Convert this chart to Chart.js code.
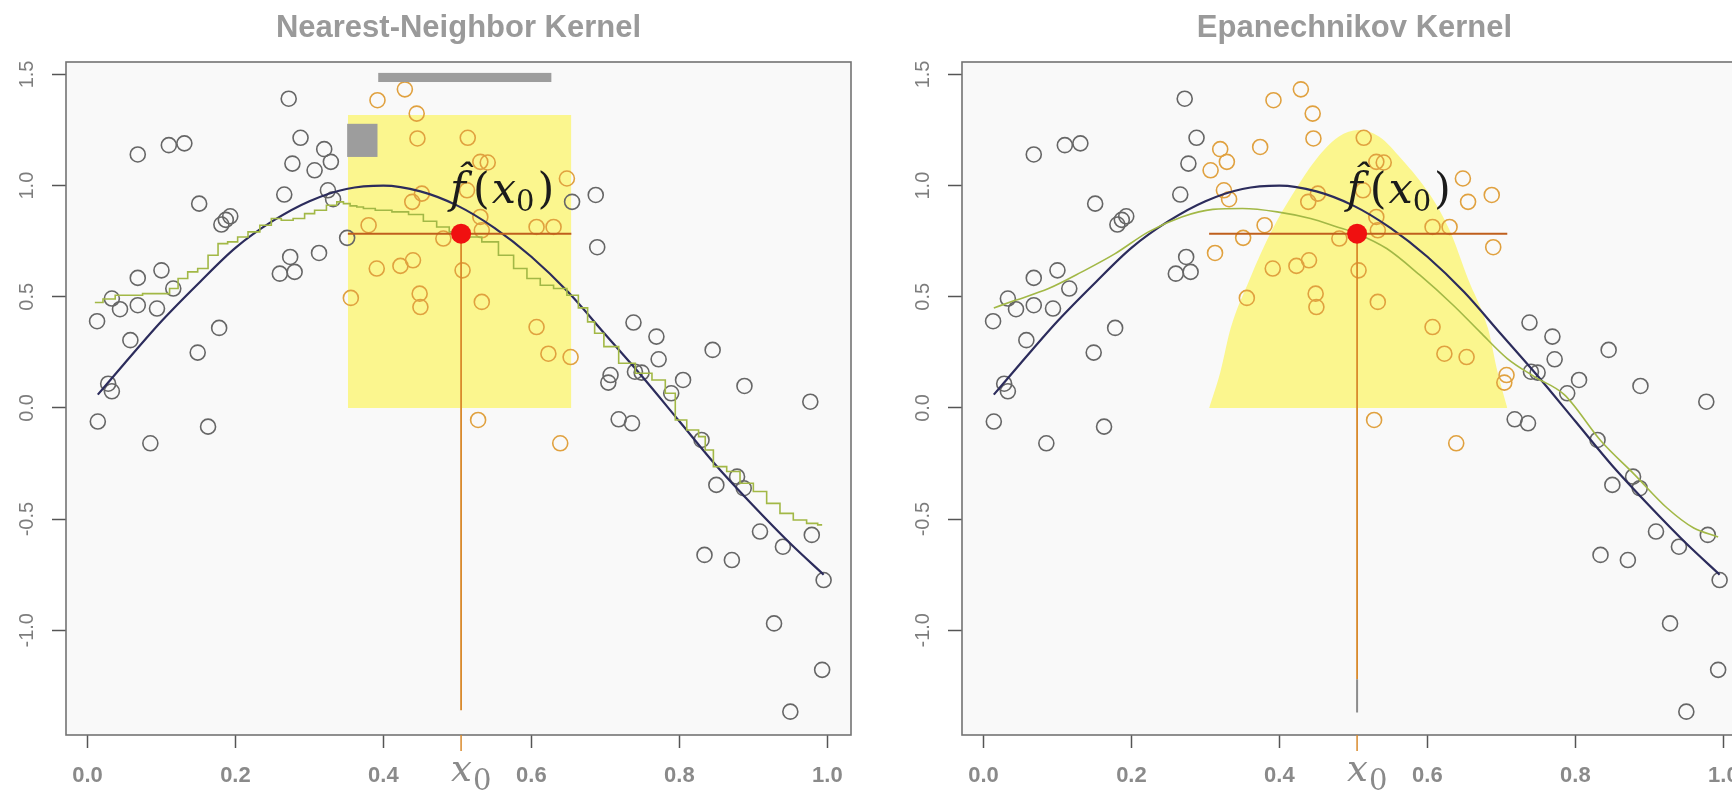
<!DOCTYPE html>
<html>
<head>
<meta charset="utf-8">
<title>Kernel smoothers</title>
<script src="https://cdn.jsdelivr.net/npm/chart.js@4.4.1/dist/chart.umd.min.js"></script>
<style>
  html, body { margin: 0; padding: 0; background: #fff; width: 1732px; height: 792px; overflow: hidden; }
  .panel { position: absolute; top: 0; width: 900px; height: 792px; }
  #left { left: 0; }
  #right { left: 900px; }
  canvas { display: block; }
</style>
</head>
<body>
<div class="panel" id="left"><canvas id="nnChart" width="900" height="792"></canvas></div>
<div class="panel" id="right"><canvas id="epaChart" width="900" height="792"></canvas></div>

<script>
// --- observations (shared by both panels) ---
const xObs = [0.013,0.014,0.028,0.033,0.033,0.044,0.058,0.068,0.068,0.068,
  0.085,0.094,0.100,0.110,0.116,0.131,0.149,0.151,0.163,0.178,
  0.181,0.187,0.193,0.260,0.266,0.272,0.274,0.277,0.280,0.288,
  0.307,0.313,0.320,0.325,0.329,0.332,0.351,0.356,0.374,0.380,
  0.391,0.392,0.423,0.429,0.439,0.440,0.445,0.446,0.449,0.450,
  0.452,0.481,0.507,0.513,0.514,0.528,0.531,0.531,0.541,0.533,
  0.533,0.607,0.607,0.623,0.630,0.639,0.648,0.653,0.655,0.687,
  0.689,0.704,0.707,0.718,0.736,0.738,0.740,0.749,0.769,0.772,
  0.789,0.805,0.830,0.834,0.845,0.850,0.871,0.878,0.887,0.888,
  0.909,0.928,0.940,0.950,0.977,0.979,0.993,0.995];
const yObs = [0.390,-0.061,0.109,0.075,0.492,0.444,0.305,1.140,0.585,0.462,
  -0.159,0.447,0.619,1.182,0.537,1.190,0.249,0.919,-0.084,0.360,
  0.825,0.846,0.862,0.604,0.960,1.391,0.679,1.099,0.612,1.215,
  1.069,0.697,1.164,0.979,1.107,0.939,0.765,0.495,1.174,0.822,
  0.627,1.384,0.639,1.433,0.927,0.664,1.324,1.212,0.514,0.454,
  0.964,0.762,0.619,0.979,1.215,-0.054,0.859,1.107,1.104,0.799,
  0.477,0.364,0.814,0.244,0.814,-0.159,1.032,0.229,0.927,0.958,
  0.723,0.114,0.148,-0.051,-0.069,0.384,0.163,0.159,0.321,0.219,
  0.066,0.126,-0.144,-0.661,0.261,-0.346,-0.684,-0.309,-0.361,0.099,
  -0.556,-0.969,-0.624,-1.366,0.028,-0.571,-1.178,-0.774];

// true function (dark curve)
const xTrue = [0.014,0.05,0.10,0.15,0.20,0.25,0.30,0.35,0.40,0.45,0.50,0.55,0.60,0.65,0.70,0.75,0.80,0.85,0.90,0.95,0.995];
const yTrue = [0.06,0.20,0.39,0.56,0.72,0.84,0.93,0.985,1.0,0.974,0.91,0.81,0.68,0.52,0.33,0.14,-0.06,-0.26,-0.44,-0.61,-0.75];

// 30-nearest-neighbour running mean
const xNN = [0.010,0.032,0.043,0.106,0.116,0.129,0.142,0.156,0.170,0.183,
  0.196,0.210,0.224,0.242,0.255,0.269,0.287,0.300,0.314,0.332,
  0.342,0.350,0.360,0.368,0.378,0.400,0.423,0.445,0.463,0.481,
  0.497,0.505,0.522,0.544,0.567,0.585,0.603,0.621,0.639,0.657,
  0.670,0.682,0.689,0.707,0.729,0.752,0.774,0.788,0.801,0.819,
  0.833,0.837,0.855,0.873,0.891,0.909,0.927,0.945,0.963,0.981,0.993];
const yNN = [0.474,0.490,0.507,0.514,0.537,0.582,0.612,0.627,0.687,0.739,
  0.747,0.769,0.792,0.822,0.852,0.844,0.852,0.874,0.889,0.912,
  0.927,0.919,0.909,0.904,0.897,0.889,0.882,0.870,0.840,0.814,
  0.792,0.784,0.769,0.747,0.687,0.627,0.582,0.552,0.537,0.507,
  0.450,0.387,0.336,0.276,0.201,0.156,0.126,0.066,-0.054,-0.099,
  -0.129,-0.189,-0.264,-0.286,-0.339,-0.376,-0.429,-0.474,-0.504,-0.519,-0.526];

// Epanechnikov-weighted average
const xEpa = [0.014,0.043,0.088,0.133,0.178,0.223,0.268,0.310,0.350,0.397,0.442,0.478,0.505,
  0.545,0.590,0.635,0.671,0.708,0.745,0.785,0.835,0.880,0.924,0.960,0.993];
const yEpa = [0.450,0.484,0.537,0.612,0.694,0.792,0.859,0.893,0.897,0.882,0.852,0.814,0.784,
  0.717,0.597,0.462,0.342,0.222,0.140,0.060,-0.150,-0.300,-0.450,-0.540,-0.580];

// kernel weights shown as shaded regions
const xBoxWeight = [0.352,0.352,0.654,0.654];
const yBoxWeight = [0,1.318,1.318,0];
const xEpaWeight = [0.305,0.32,0.334,0.36,0.39,0.417,0.45,0.48,0.507,0.535,0.565,0.604,0.63,0.655,0.682,0.695,0.708];
const yEpaWeight = [0,0.16,0.357,0.58,0.80,0.957,1.12,1.22,1.25,1.22,1.12,0.957,0.80,0.58,0.357,0.16,0];

// target point and fitted values
const x0 = 0.505;
const fhatNN = 0.784;
const fhatEpa = 0.784;
const nnWindow = [0.352, 0.654];
const epaWindow = [0.305, 0.708];

const xTickValues = [0, 0.2, 0.4, 0.6, 0.8, 1.0];
const yTickValues = [-1.0, -0.5, 0, 0.5, 1.0, 1.5];

const ORANGE = '#e0a13f';
const GREY = '#666666';

Chart.defaults.font.family = '"Liberation Sans", Arial, sans-serif';

const pts = (xs, ys) => xs.map((v, i) => ({ x: v, y: ys[i] }));

// title, frame, hat-f label, x0 marker and the grey blocks
const decor = {
  id: 'decor',
  beforeDraw(chart) {
    const { ctx, chartArea: a } = chart;
    ctx.save();
    ctx.fillStyle = '#f9f9f9';
    ctx.fillRect(a.left, a.top, a.right - a.left, a.bottom - a.top);
    ctx.restore();
  },
  afterDatasetsDraw(chart, args, opts) {
    const { ctx, chartArea: a, scales: { x, y } } = chart;
    ctx.save();
    (opts.blocks || []).forEach(b => {
      const l = x.getPixelForValue(b[0]), r = x.getPixelForValue(b[1]);
      const t = y.getPixelForValue(b[3]), bt = y.getPixelForValue(b[2]);
      ctx.fillStyle = '#9d9d9d';
      ctx.fillRect(l, t, r - l, bt - t);
    });

    // \hat f(x_0)
    let cx = x.getPixelForValue(opts.labelAt[0]);
    const base = y.getPixelForValue(opts.labelAt[1]);
    ctx.fillStyle = '#1b1b1b';
    ctx.textAlign = 'left';
    ctx.textBaseline = 'alphabetic';
    ctx.font = 'italic 43px "DejaVu Serif"';
    ctx.fillText('f\u0302', cx, base);
    cx += ctx.measureText('f').width + 7;
    ctx.font = '43px "DejaVu Serif"';
    ctx.fillText('(', cx, base);
    cx += ctx.measureText('(').width + 2;
    ctx.font = 'italic 43px "DejaVu Serif"';
    ctx.fillText('x', cx, base);
    cx += ctx.measureText('x').width;
    ctx.font = '29px "DejaVu Serif"';
    ctx.fillText('0', cx, base + 8);
    cx += ctx.measureText('0').width + 3;
    ctx.font = '43px "DejaVu Serif"';
    ctx.fillText(')', cx, base);

    ctx.strokeStyle = '#737373';
    ctx.lineWidth = 1.6;
    ctx.strokeRect(a.left, a.top, a.right - a.left, a.bottom - a.top);
    ctx.restore();
  },
  afterDraw(chart, args, opts) {
    const { ctx, chartArea: a, scales: { x } } = chart;
    ctx.save();
    ctx.fillStyle = '#9a9a9a';
    ctx.font = 'bold 31px "Liberation Sans"';
    ctx.textAlign = 'center';
    ctx.textBaseline = 'middle';
    ctx.fillText(opts.title, (a.left + a.right) / 2, 28);

    // x0 tick and label under the axis
    const px = x.getPixelForValue(x0);
    ctx.strokeStyle = '#d98a2c';
    ctx.lineWidth = 1.5;
    ctx.beginPath();
    ctx.moveTo(px, a.bottom);
    ctx.lineTo(px, a.bottom + 16);
    ctx.stroke();
    ctx.fillStyle = '#8a8a8a';
    ctx.textAlign = 'left';
    ctx.textBaseline = 'alphabetic';
    ctx.font = 'italic 37px "DejaVu Serif"';
    ctx.fillText('x', px - 10, a.bottom + 46);
    const w = ctx.measureText('x').width;
    ctx.font = '29px "DejaVu Serif"';
    ctx.fillText('0', px - 9 + w, a.bottom + 55);
    ctx.restore();
  }
};

function buildPanel(canvasId, p) {
  const inWin = v => v >= p.window[0] && v <= p.window[1];
  const datasets = [
    { data: [{ x: x0, y: p.fhat }], pointRadius: 10, pointBackgroundColor: '#f01010', pointBorderWidth: 0, order: 1 },
    { data: [{ x: p.window[0], y: p.fhat }, { x: p.window[1], y: p.fhat }], showLine: true,
      borderColor: '#bf5f1d', borderWidth: 2, pointRadius: 0, order: 2 },
    { data: [{ x: x0, y: p.fhat }, { x: x0, y: p.dropTo }], showLine: true,
      borderColor: '#d98a2c', borderWidth: 1.8, pointRadius: 0, order: 2 },
    { data: pts(p.fitX, p.fitY), showLine: true, borderColor: '#a2b846', borderWidth: 1.6,
      pointRadius: 0, stepped: p.stepped, cubicInterpolationMode: p.stepped ? 'default' : 'monotone', order: 3 },
    { data: pts(xTrue, yTrue), showLine: true, borderColor: '#2c2c5c', borderWidth: 2.2,
      pointRadius: 0, cubicInterpolationMode: 'monotone', order: 4 },
    { data: pts(xObs, yObs), pointRadius: 7.5, pointBorderWidth: 1.6, pointBackgroundColor: 'rgba(0,0,0,0)',
      pointBorderColor: xObs.map(v => inWin(v) ? ORANGE : GREY), order: 5 },
    { data: pts(p.weightX, p.weightY), showLine: true, fill: 'origin', backgroundColor: '#fbf68e',
      borderWidth: 0, pointRadius: 0, cubicInterpolationMode: p.smoothWeight ? 'monotone' : 'default', order: 6 }
  ];
  if (p.greyTail) {
    datasets.push({ data: [{ x: x0, y: p.greyTail[0] }, { x: x0, y: p.greyTail[1] }], showLine: true,
      borderColor: '#8c8c8c', borderWidth: 2, pointRadius: 0, order: 1 });
  }

  return new Chart(document.getElementById(canvasId), {
    type: 'scatter',
    data: { datasets },
    options: {
      responsive: false,
      animation: false,
      devicePixelRatio: 1,
      layout: { padding: { top: 62, right: p.padRight, left: 0, bottom: 0 } },
      plugins: {
        legend: { display: false },
        tooltip: { enabled: false },
        decor: { title: p.title, labelAt: p.labelAt, blocks: p.blocks }
      },
      scales: {
        x: {
          type: 'linear', min: -0.029, max: 1.032,
          afterBuildTicks: s => { s.ticks = xTickValues.map(v => ({ value: v })); },
          afterFit: s => { s.height = 57; },
          border: { display: false },
          grid: { drawOnChartArea: false, tickLength: 13, tickWidth: 1.5, tickColor: '#555' },
          ticks: { callback: v => v.toFixed(1), color: '#8a8a8a', padding: 15, maxRotation: 0, autoSkip: false,
            font: { size: 22, weight: 'bold' } }
        },
        y: {
          type: 'linear', min: -1.471, max: 1.556,
          afterBuildTicks: s => { s.ticks = yTickValues.map(v => ({ value: v })); },
          afterFit: s => { s.width = p.axisWidth; },
          border: { display: false },
          grid: { drawOnChartArea: false, tickLength: 14, tickWidth: 1.5, tickColor: '#555' },
          ticks: { callback: v => v.toFixed(1), color: '#7d7d7d', padding: 7, minRotation: 90, maxRotation: 90,
            crossAlign: 'center', autoSkip: false, font: { size: 20 } }
        }
      }
    },
    plugins: [decor]
  });
}

buildPanel('nnChart', {
  title: 'Nearest-Neighbor Kernel',
  fhat: fhatNN, window: nnWindow, dropTo: -1.36,
  fitX: xNN, fitY: yNN, stepped: 'middle',
  weightX: xBoxWeight, weightY: yBoxWeight, smoothWeight: false,
  labelAt: [0.49, 0.922],
  blocks: [[0.393, 0.627, 1.466, 1.507], [0.351, 0.392, 1.129, 1.278]],
  axisWidth: 66, padRight: 49
});

buildPanel('epaChart', {
  title: 'Epanechnikov Kernel',
  fhat: fhatEpa, window: epaWindow, dropTo: -1.22,
  fitX: xEpa, fitY: yEpa, stepped: false,
  weightX: xEpaWeight, weightY: yEpaWeight, smoothWeight: true,
  labelAt: [0.491, 0.922],
  blocks: [],
  greyTail: [-1.22, -1.37],
  axisWidth: 62, padRight: 53
});
</script>
</body>
</html>
